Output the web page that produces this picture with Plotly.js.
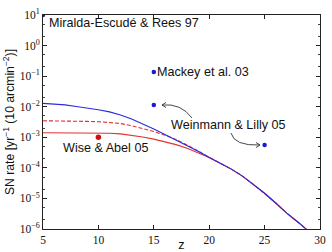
<!DOCTYPE html>
<html><head><meta charset="utf-8">
<script src="https://cdn.plot.ly/plotly-3.0.1.min.js"></script>
<style>html,body{margin:0;padding:0;background:#fff}#c{width:332px;height:252px}</style>
</head><body><div id="c"></div>
<script>
// redshift grid
const zGrid = [5, 6, 7, 8, 9, 10, 11, 12, 13, 14, 15, 16, 17, 18, 19];
const zTail = [20, 21, 22, 23, 24, 25, 26, 27, 28, 28.75, 29];
const tailRate = [2.19e-4, 1.41e-4, 9.1e-5, 5.37e-5, 2.88e-5, 1.48e-5, 7.1e-6, 3.3e-6, 1.70e-6, 1.0e-6, 8.3e-7];
const blueRate = [0.0129, 0.0123, 0.0115, 0.0102, 0.00912, 0.00794, 0.00676, 0.00537, 0.00398, 0.00275, 0.00186, 0.00123, 8.13e-4, 5.37e-4, 3.47e-4];
const redDashRate = [0.00347, 0.00347, 0.00347, 0.00339, 0.00331, 0.00324, 0.00309, 0.00282, 0.00240, 0.00195, 0.00155, 0.00117, 8.51e-4, 5.62e-4, 3.47e-4];
const redSolidRate = [0.00141, 0.00141, 0.00141, 0.00141, 0.00138, 0.00138, 0.00135, 0.00129, 0.00117, 0.00102, 8.71e-4, 7.24e-4, 5.75e-4, 4.37e-4, 3.16e-4];

// observational points
const blueZ = [5, 15, 15, 25];
const blueVal = [10, 0.136, 0.0114, 5.6e-4];
const redZ = [10];
const redVal = [1.0e-3];

// labels
const lblMiralda = "Miralda-Escudé &amp; Rees 97";
const lblMackey = "Mackey et al. 03";
const lblWeinmann = "Weinmann &amp; Lilly 05";
const lblWise = "Wise &amp; Abel 05";
const yTickVals = [1e-6, 1e-5, 1e-4, 1e-3, 1e-2, 1e-1, 1, 10];
const yTickText = ["10<sup>−6</sup>", "10<sup>−5</sup>", "10<sup>−4</sup>", "10<sup>−3</sup>", "10<sup>−2</sup>", "10<sup>−1</sup>", "10<sup>0</sup>", "10<sup>1</sup>"];
const xTickVals = [5, 10, 15, 20, 25, 30];

const BLUE = '#2a2ae0', RED = '#e03333';
const full = (a) => a.concat(tailRate);
const zFull = zGrid.concat(zTail);

const traces = [
  {x: zFull, y: full(redSolidRate), mode: 'lines', line: {color: RED, width: 1.1}},
  {x: zFull, y: full(redDashRate), mode: 'lines', line: {color: RED, width: 1.1, dash: '4px,2px'}},
  {x: zFull, y: full(blueRate), mode: 'lines', line: {color: BLUE, width: 1.1}},
  {x: blueZ, y: blueVal, mode: 'markers', marker: {color: '#1a1ad0', size: 4.5}},
  {x: redZ, y: redVal, mode: 'markers', marker: {color: '#cc1111', size: 5.5}}
];

// pixel -> paper helpers for arrow drawing
const L = 43, R = 320, T = 15, B = 229;
const px = (x) => ((x - L) / (R - L)).toFixed(4);
const py = (y) => ((B - y) / (B - T)).toFixed(4);
function curvedArrow(x0, y0, cx, cy, x1, y1, dir) {
  const h = 4 * dir;
  return `M ${px(x0)} ${py(y0)} Q ${px(cx)} ${py(cy)} ${px(x1)} ${py(y1)} ` +
         `M ${px(x1 + h)} ${py(y1 - 2.5)} L ${px(x1)} ${py(y1)} L ${px(x1 + h)} ${py(y1 + 2.5)}`;
}

const tf = {family: 'Liberation Sans, Arial, sans-serif', size: 12.6, color: '#111'};
const axisCommon = {
  showline: true, linecolor: '#222', linewidth: 1, mirror: 'allticks',
  ticks: 'inside', ticklen: 4, tickcolor: '#222', showgrid: false, zeroline: false,
  tickfont: {family: 'Liberation Serif, DejaVu Serif, serif', size: 11.5, color: '#111'}
};

const layout = {
  width: 332, height: 252,
  margin: {l: 43, r: 12, t: 15, b: 23},
  paper_bgcolor: '#fff', plot_bgcolor: '#fff',
  showlegend: false,
  xaxis: Object.assign({}, axisCommon, {
    range: [5, 30], tickvals: xTickVals, ticktext: xTickVals.map(String),
    title: {text: 'z', font: tf, standoff: 4}
  }),
  yaxis: Object.assign({}, axisCommon, {
    type: 'log', range: [-6, 1], tickvals: yTickVals, ticktext: yTickText,
    minor: {ticks: 'inside', ticklen: 2, tickcolor: '#444', showgrid: false},
    title: {text: 'SN rate [yr<sup>−1</sup> (10 arcmin<sup>−2</sup>)]', font: Object.assign({}, tf, {size: 12.2}), standoff: 2}
  }),
  annotations: [
    {x: 5, y: 1, xref: 'x', yref: 'y', text: lblMiralda, showarrow: false, xanchor: 'left', yanchor: 'middle', xshift: 4, yshift: -8, font: tf},
    {x: 15, y: Math.log10(0.136), xref: 'x', yref: 'y', text: lblMackey, showarrow: false, xanchor: 'left', yanchor: 'middle', xshift: 1, font: tf},
    {x: 21.7, y: Math.log10(0.0025), xref: 'x', yref: 'y', text: lblWeinmann, showarrow: false, xanchor: 'center', yanchor: 'middle', font: tf},
    {x: 10, y: -3, xref: 'x', yref: 'y', text: lblWise, showarrow: false, xanchor: 'center', yanchor: 'middle', xshift: 7, yshift: -11, font: tf}
  ],
  shapes: [
    {type: 'path', xref: 'paper', yref: 'paper', path: curvedArrow(192, 118, 181, 103, 162, 105, 1), line: {color: '#333', width: 0.9}},
    {type: 'path', xref: 'paper', yref: 'paper', path: curvedArrow(231, 133, 234, 146, 260, 145, -1), line: {color: '#333', width: 0.9}}
  ]
};

Plotly.newPlot('c', traces, layout, {displayModeBar: false, staticPlot: true});
</script></body></html>
